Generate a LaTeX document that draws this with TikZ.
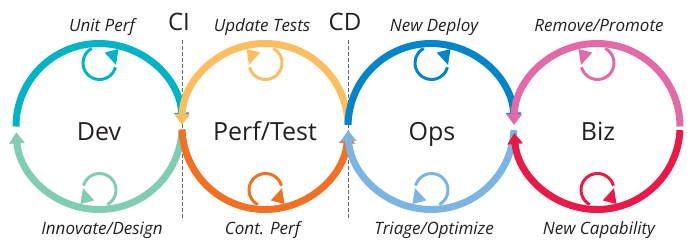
\documentclass[tikz,border=0pt]{standalone}
\usepackage{fontspec}
\setmainfont{Open Sans}
\usetikzlibrary{arrows.meta}
\definecolor{devT}{RGB}{0,180,198}
\definecolor{devB}{RGB}{128,204,180}
\definecolor{perfT}{RGB}{253,190,95}
\definecolor{perfB}{RGB}{242,112,33}
\definecolor{opsT}{RGB}{0,132,202}
\definecolor{opsB}{RGB}{124,181,226}
\definecolor{bizT}{RGB}{226,106,166}
\definecolor{bizB}{RGB}{236,24,72}
\definecolor{txt}{RGB}{35,31,32}
\definecolor{dashgray}{RGB}{100,100,100}
\tikzset{
  bigarc/.style={line width=7pt, -{Triangle[width=15pt,length=11pt]}},
  looparc/.style={line width=3pt},
  mainlabel/.style={text=txt, font=\fontsize{25}{25}\selectfont, anchor=base, inner sep=0pt},
  sublabel/.style={text=txt, font=\fontsize{17}{17}\selectfont\itshape, anchor=base, inner sep=0pt},
  stagelabel/.style={text=txt, font=\fontsize{24}{24}\selectfont, anchor=base, inner sep=0pt},
  divider/.style={draw=dashgray, line width=1pt, dash pattern=on 3.5pt off 2.5pt},
  loopicon/.pic={
    \draw[looparc] (-15:16.5) arc[start angle=-15, end angle=-242, radius=16.5];
    \fill (5.2,10.4) -- (19.0,14.0) -- (16.5,-1.9) -- cycle;
  }
}
\begin{document}
\begin{tikzpicture}[x=1pt,y=1pt]
\useasboundingbox (0,0) rectangle (695,250);
% centres
\coordinate (dev) at (99,123.5);
\coordinate (perf) at (265,123.5);
\coordinate (ops) at (431,123.5);
\coordinate (biz) at (597,123.5);
% dividers
\coordinate (ciTop) at (182,210);
\coordinate (ciBot) at (182,30);
\coordinate (cdTop) at (348,210);
\coordinate (cdBot) at (348,30);
\draw[divider] (ciTop) -- (ciBot);
\draw[divider] (cdTop) -- (cdBot);
% Dev
\draw[bigarc, devT] ([shift={(180:83)}]dev) arc[start angle=180, end angle=2, radius=83];
\draw[bigarc, devB] ([shift={(-3:83)}]dev) arc[start angle=-3, end angle=-176, radius=83];
% Perf/Test
\draw[bigarc, perfT] ([shift={(1.5:83)}]perf) arc[start angle=1.5, end angle=179, radius=83];
\draw[bigarc, perfB] ([shift={(182:83)}]perf) arc[start angle=182, end angle=356, radius=83];
% Ops
\draw[bigarc, opsT] ([shift={(179:83)}]ops) arc[start angle=179, end angle=2, radius=83];
\draw[bigarc, opsB] ([shift={(-2.5:83)}]ops) arc[start angle=-2.5, end angle=-177.5, radius=83];
% Biz
\draw[bigarc, bizT] ([shift={(0:83)}]biz) arc[start angle=0, end angle=179, radius=83];
\draw[bigarc, bizB] ([shift={(-2.5:83)}]biz) arc[start angle=-2.5, end angle=-175.5, radius=83];
% small loops
\pic[devT] at (99.5,187) {loopicon};
\pic[devB, rotate=180] at (99.5,60) {loopicon};
\pic[perfT, xscale=-1] at (265.5,187) {loopicon};
\pic[perfB, yscale=-1] at (265.5,60) {loopicon};
\pic[opsT] at (431.5,187) {loopicon};
\pic[opsB, rotate=180] at (431.5,60) {loopicon};
\pic[bizT, xscale=-1] at (597.5,187) {loopicon};
\pic[bizB, yscale=-1] at (597.5,60) {loopicon};
% labels
\node[mainlabel] (devL) at (99,110) {Dev};
\node[mainlabel] (perfL) at (265,110) {Perf/Test};
\node[mainlabel] (opsL) at (432,110) {Ops};
\node[mainlabel] (bizL) at (598,110) {Biz};
\node[sublabel] (devTL) at (102,218.5) {Unit Perf};
\node[sublabel] (devBL) at (102,16) {Innovate/Design};
\node[sublabel] (perfTL) at (262,218.5) {Update Tests};
\node[sublabel] (perfBL) at (262.5,16) {Cont. Perf};
\node[sublabel] (opsTL) at (434,218.5) {New Deploy};
\node[sublabel] (opsBL) at (434,16) {Triage/Optimize};
\node[sublabel] (bizTL) at (599,218.5) {Remove/Promote};
\node[sublabel] (bizBL) at (599,16) {New Capability};
\node[stagelabel] (ciL) at (179,220) {CI};
\node[stagelabel] (cdL) at (345,220) {CD};
\end{tikzpicture}
\end{document}
